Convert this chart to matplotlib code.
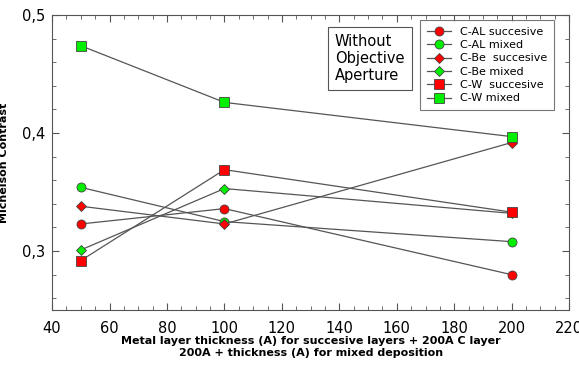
import matplotlib
matplotlib.use('Agg')
from matplotlib import pyplot as plt
from matplotlib.ticker import MultipleLocator, FuncFormatter

thickness = [50, 100, 200]

cal_succ = [0.323, 0.336, 0.280]
cal_mixed = [0.354, 0.325, 0.308]
cbe_succ = [0.338, 0.323, 0.392]
cbe_mixed = [0.301, 0.353, 0.332]
cw_succ = [0.292, 0.369, 0.333]
cw_mixed = [0.474, 0.426, 0.397]

series = [
    ('C-AL succesive', cal_succ, 'o', '#ff0000'),
    ('C-AL mixed', cal_mixed, 'o', '#00ee00'),
    ('C-Be  succesive', cbe_succ, 'D', '#ff0000'),
    ('C-Be mixed', cbe_mixed, 'D', '#00ee00'),
    ('C-W  succesive', cw_succ, 's', '#ff0000'),
    ('C-W mixed', cw_mixed, 's', '#00ee00'),
]

plt.rcParams['font.family'] = 'DejaVu Sans'
fig = plt.figure(figsize=(5.79, 3.67), dpi=100)
ax = fig.add_axes([0.09, 0.155, 0.893, 0.804])

for label, vals, mk, col in series:
    ms = 5.5 if mk == 'D' else 6.5
    ax.plot(thickness, vals, color='#555555', linewidth=0.9, marker=mk,
            markersize=ms, markerfacecolor=col, markeredgecolor='#444444',
            markeredgewidth=0.6, label=label)

ax.set_xlim(40, 220)
ax.set_ylim(0.25, 0.5)
ax.xaxis.set_major_locator(MultipleLocator(20))
ax.xaxis.set_minor_locator(MultipleLocator(5))
ax.yaxis.set_major_locator(MultipleLocator(0.1))
ax.yaxis.set_minor_locator(MultipleLocator(0.02))
ax.yaxis.set_major_formatter(FuncFormatter(lambda v, p: f'{v:.1f}'.replace('.', ',')))
ax.tick_params(which='both', direction='in', top=True, right=True,
               labelsize=10.5, color='#555555')
ax.tick_params(which='major', length=5)
ax.tick_params(which='minor', length=3)
ax.tick_params(axis='x', pad=8)
ax.tick_params(axis='y', pad=5)
for s in ax.spines.values():
    s.set_color('#555555')

ax.set_ylabel('Michelson Contrast', fontsize=8, fontweight='bold')
ax.yaxis.set_label_coords(-0.083, 0.5)
ax.set_xlabel('Metal layer thickness (A) for succesive layers + 200A C layer\n'
              '200A + thickness (A) for mixed deposition',
              fontsize=8, fontweight='bold', labelpad=0, linespacing=1.25)

leg = ax.legend(loc='upper right', bbox_to_anchor=(0.971, 0.983), fontsize=8,
                frameon=True, fancybox=False, edgecolor='#555555',
                handlelength=2.2, labelspacing=0.3, borderpad=0.6,
                borderaxespad=0)
leg.get_frame().set_linewidth(0.8)

ax.text(0.547, 0.935, 'Without\nObjective\nAperture', transform=ax.transAxes,
        fontsize=10.5, va='top', ha='left', linespacing=1.15,
        bbox=dict(boxstyle='square,pad=0.5', facecolor='white',
                  edgecolor='#555555', linewidth=0.8))

fig.savefig('out.png', dpi=100)
